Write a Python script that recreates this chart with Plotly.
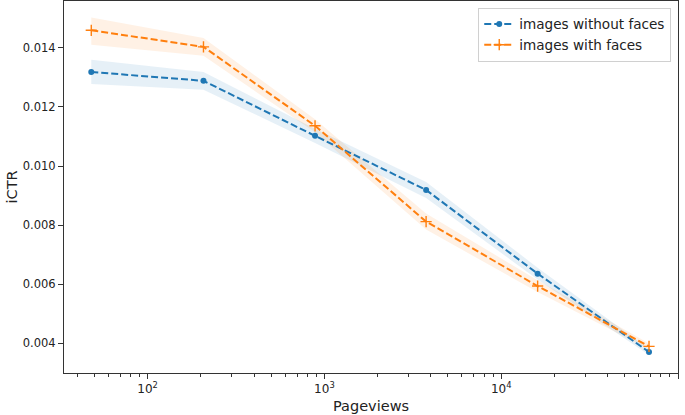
import plotly.graph_objects as go

# Data
pageviews = [48, 207, 885, 3760, 16070, 68550]

no_faces = [0.01318, 0.01288, 0.01102, 0.00919, 0.00636, 0.00371]
no_faces_lo = [0.01277, 0.01258, 0.01078, 0.00892, 0.00616, 0.00361]
no_faces_hi = [0.01359, 0.01318, 0.01126, 0.00946, 0.00656, 0.00381]

faces = [0.01459, 0.01403, 0.01136, 0.00812, 0.00594, 0.00390]
faces_lo = [0.01410, 0.01373, 0.01114, 0.00785, 0.00574, 0.00380]
faces_hi = [0.01502, 0.01433, 0.01158, 0.00839, 0.00614, 0.00400]

x_tickvals = [100, 1000, 10000, 100000]
x_ticktext = ["10<sup>2</sup>", "10<sup>3</sup>", "10<sup>4</sup>", "10<sup>5</sup>"]
y_tickvals = [0.004, 0.006, 0.008, 0.010, 0.012, 0.014]
y_ticktext = ["0.004", "0.006", "0.008", "0.010", "0.012", "0.014"]

BLUE = "#1f77b4"
ORANGE = "#ff7f0e"
FONT = "DejaVu Sans"

fig = go.Figure()

fig.add_trace(go.Scatter(x=pageviews, y=no_faces, mode="lines+markers", name="images without faces",
                         line=dict(color=BLUE, width=2, dash="7px,3px"),
                         marker=dict(symbol="circle", size=6, color=BLUE)))
fig.add_trace(go.Scatter(x=pageviews, y=faces, mode="lines+markers", name="images with faces",
                         line=dict(color=ORANGE, width=2, dash="7px,3px"),
                         marker=dict(symbol="cross-thin", size=8, color=ORANGE,
                                     line=dict(color=ORANGE, width=1.4))))

def band(lo, hi, fill):
    fig.add_trace(go.Scatter(x=pageviews, y=hi, mode="lines", line=dict(width=0),
                             showlegend=False, hoverinfo="skip"))
    fig.add_trace(go.Scatter(x=pageviews, y=lo, mode="lines", line=dict(width=0),
                             fill="tonexty", fillcolor=fill, showlegend=False, hoverinfo="skip"))

band(no_faces_lo, no_faces_hi, "rgba(31,119,180,0.11)")
band(faces_lo, faces_hi, "rgba(255,127,14,0.11)")

# put the bands underneath the lines
fig.data = fig.data[2:] + fig.data[:2]

minor_vals = [m * 10 ** e for e in range(1, 5) for m in range(2, 10)]

fig.update_layout(
    width=685, height=415,
    margin=dict(l=64, r=7, t=1, b=42),
    paper_bgcolor="white", plot_bgcolor="white",
    font=dict(family=FONT, size=11.5, color="#222"),
    showlegend=True,
    legend=dict(x=0.989, y=0.982, xanchor="right", yanchor="top", traceorder="normal",
                bgcolor="rgba(255,255,255,0.8)", bordercolor="#d0d0d0", borderwidth=1,
                font=dict(family=FONT, size=13.6, color="#222"), tracegroupgap=0),
    annotations=[
        dict(text="Pageviews", xref="paper", yref="paper", x=0.5, y=-0.088,
             xanchor="center", yanchor="middle", showarrow=False,
             font=dict(family=FONT, size=14.5, color="#222")),
        dict(text="iCTR", xref="paper", yref="paper", x=-0.084, y=0.5, textangle=-90,
             xanchor="center", yanchor="middle", showarrow=False,
             font=dict(family=FONT, size=14.5, color="#222")),
    ],
)
fig.update_xaxes(type="log", range=[1.527, 5.0], showgrid=False, zeroline=False, automargin=False,
                 showline=True, linecolor="#333", linewidth=1, mirror=True,
                 ticks="outside", ticklen=5, tickcolor="#333", tickwidth=1,
                 tickvals=x_tickvals, ticktext=x_ticktext,
                 tickfont=dict(size=12),
                 minor=dict(ticks="outside", ticklen=3, tickcolor="#333", tickwidth=0.8,
                            tickvals=minor_vals))
fig.update_yaxes(range=[0.00300, 0.01558], showgrid=False, zeroline=False, automargin=False,
                 showline=True, linecolor="#333", linewidth=1, mirror=True,
                 ticks="outside", ticklen=5, tickcolor="#333", tickwidth=1,
                 tickvals=y_tickvals, ticktext=y_ticktext,
                 tickfont=dict(size=11.5))

fig.write_html("out.html", config={"displayModeBar": False},
               post_script="document.body.style.margin='0';document.body.style.overflow='hidden';")
